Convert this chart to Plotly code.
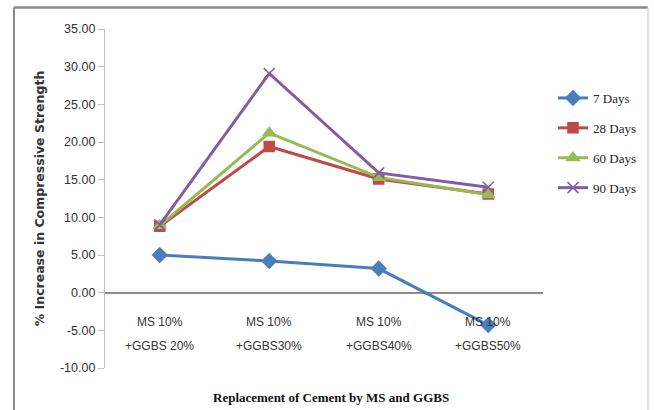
import plotly.graph_objects as go

categories_line1 = ["MS 10%", "MS 10%", "MS 10%", "MS 10%"]
categories_line2 = ["+GGBS 20%", "+GGBS30%", "+GGBS40%", "+GGBS50%"]
x_pos = [0, 1, 2, 3]

y_tickvals = [-10, -5, 0, 5, 10, 15, 20, 25, 30, 35]
y_ticktext = ["-10.00", "-5.00", "0.00", "5.00", "10.00", "15.00",
              "20.00", "25.00", "30.00", "35.00"]

days7 = [5.0, 4.2, 3.2, -4.3]
days28 = [8.8, 19.4, 15.1, 13.1]
days60 = [8.9, 21.2, 15.3, 13.0]
days90 = [9.0, 29.1, 15.9, 14.0]

series = [
    ("7 Days", days7, "#4A7EBB", "diamond", 11),
    ("28 Days", days28, "#BE4B48", "square", 10),
    ("60 Days", days60, "#98B954", "triangle-up", 11),
    ("90 Days", days90, "#7D60A0", "x-thin", 11),
]

fig = go.Figure()
for name, vals, color, sym, size in series:
    fig.add_trace(go.Scatter(
        x=x_pos, y=vals, name=name, mode="lines+markers",
        legendgroup=name,
        line=dict(color=color, width=3),
        marker=dict(symbol=sym, size=size, color=color,
                    line=dict(color=color, width=1.5)),
    ))

W, H = 654, 410
L, R, T, B = 105, 111, 29, 42
pw, ph = W - L - R, H - T - B

def px_x(p):
    return (p - L) / pw

def px_y(p):
    return (H - B - p) / ph

tick_font = dict(family="Liberation Sans", size=12.5, color="#333")
cat_font = dict(family="Liberation Sans", size=12, color="#333")

fig.update_layout(
    width=W, height=H,
    margin=dict(l=L, r=R, t=T, b=B, pad=0, autoexpand=False),
    paper_bgcolor="white", plot_bgcolor="white",
    showlegend=True,
    legend=dict(
        x=px_x(553), y=px_y(83), xanchor="left", yanchor="top",
        font=dict(family="Liberation Serif", size=13, color="#222"),
        tracegroupgap=10, bgcolor="rgba(0,0,0,0)",
    ),
    xaxis=dict(
        range=[-0.5, 3.5], showgrid=False, zeroline=False,
        showline=False, showticklabels=False, ticks="",
    ),
    yaxis=dict(
        range=[-10, 35], tickvals=y_tickvals, ticktext=y_ticktext,
        showgrid=False, zeroline=True, zerolinecolor="#8C8C8C", zerolinewidth=1.5,
        showline=True, linecolor="#BFBFBF", linewidth=1.2,
        ticks="outside", ticklen=6, tickcolor="#BFBFBF",
        tickfont=tick_font,
        title=dict(text="<b>% Increase in Compressive Strength</b>", standoff=12,
                   font=dict(family="DejaVu Sans", size=12.5, color="#333")),
    ),
)

for i, (a, b) in enumerate(zip(categories_line1, categories_line2)):
    fig.add_annotation(x=x_pos[i], y=px_y(322), xref="x", yref="paper", text=a,
                       showarrow=False, yanchor="middle", font=cat_font)
    fig.add_annotation(x=x_pos[i], y=px_y(346), xref="x", yref="paper", text=b,
                       showarrow=False, yanchor="middle", font=cat_font)

fig.add_annotation(x=px_x(331), y=px_y(397), xref="paper", yref="paper",
                   text="<b>Replacement of Cement by MS and GGBS</b>",
                   showarrow=False, yanchor="middle",
                   font=dict(family="Liberation Serif", size=13, color="#111"))

# Outer chart frame
fig.add_shape(type="line", xref="paper", yref="paper",
              x0=px_x(14), x1=px_x(14), y0=px_y(7.5), y1=px_y(420),
              line=dict(color="#8A8A8A", width=2))
fig.add_shape(type="line", xref="paper", yref="paper",
              x0=px_x(14), x1=px_x(648), y0=px_y(7.5), y1=px_y(7.5),
              line=dict(color="#8A8A8A", width=2.5))
fig.add_shape(type="line", xref="paper", yref="paper",
              x0=px_x(648), x1=px_x(648), y0=px_y(7.5), y1=px_y(420),
              line=dict(color="#D9D9D9", width=1.5))

fig.write_html("out.html", config={"displayModeBar": False},
               post_script="document.body.style.margin='0';document.body.style.overflow='hidden';")
